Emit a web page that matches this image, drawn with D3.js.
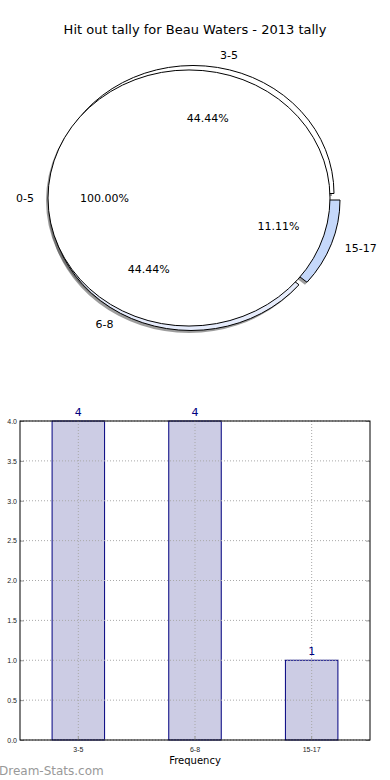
<!DOCTYPE html>
<html>
<head>
<meta charset="utf-8">
<script src="https://cdn.jsdelivr.net/npm/d3@7"></script>
<style>
  body { margin: 0; background: #fff; }
  svg { display: block; font-family: "DejaVu Sans", sans-serif; }
</style>
</head>
<body>
<div id="chart"></div>
<script>
const title = "Hit out tally for Beau Waters - 2013 tally"
const outerPieLabels = ["0-5"]
const outerPieValues = [1]
const pieLabels = ["3-5", "6-8", "15-17"]
const pieValues = [4, 4, 1]
const barLabels = ["3-5", "6-8", "15-17"]
const barValues = [4, 4, 1]
const yTicks = [0, 0.5, 1, 1.5, 2, 2.5, 3, 3.5, 4]

const width = 390, height = 780

const svg = d3.select("#chart").append("svg")
  .attr("width", width)
  .attr("height", height)

svg.append("text")
  .attr("x", 195).attr("y", 34)
  .attr("text-anchor", "middle")
  .attr("font-size", 13)
  .text(title)

// ---- pie (matplotlib style, stretched into an ellipse) ----
const cx = 189, cy = 198, rx = 141, ry = 128
const k = ry / rx
const pieColors = ["#ffffff", "#e6ecfc", "#c5d8fa"]
const offsets = [[4, -4.5], [2, 4.5], [10, 2]]

// angles counter-clockwise from east, like matplotlib
const pie = d3.pie().sort(null).value(d => d)
  .startAngle(Math.PI / 2).endAngle(Math.PI / 2 - 2 * Math.PI)
const arc = d3.arc().innerRadius(0).outerRadius(rx)

const inner = pie(pieValues)
const outer = pie(outerPieValues)

const gPie = svg.append("g")

function wedgeGroup(parent, dx, dy) {
  return parent.append("g")
    .attr("transform", `translate(${cx + dx},${cy + dy}) scale(1,${k})`)
}

// shadows first
inner.forEach((d, i) => {
  wedgeGroup(gPie, offsets[i][0] - 2, offsets[i][1] + 2.5).append("path")
    .attr("d", arc(d))
    .attr("fill", "#4d4d4d").attr("opacity", 0.55)
})
outer.forEach(d => {
  wedgeGroup(gPie, -2, 2.5).append("path")
    .attr("d", arc(d))
    .attr("fill", "#4d4d4d").attr("opacity", 0.55)
})
inner.forEach((d, i) => {
  wedgeGroup(gPie, offsets[i][0], offsets[i][1]).append("path")
    .attr("d", arc(d))
    .attr("fill", pieColors[i])
    .attr("stroke", "#000")
    .attr("stroke-width", 1)
    .attr("vector-effect", "non-scaling-stroke")
})
outer.forEach(d => {
  wedgeGroup(gPie, 0, 0).append("path")
    .attr("d", arc(d))
    .attr("fill", "#fff")
    .attr("stroke", "#000")
    .attr("stroke-width", 1)
    .attr("vector-effect", "non-scaling-stroke")
})

function pieText(d, label, total, dx, dy) {
  const mid = (d.startAngle + d.endAngle) / 2
  const ux = Math.sin(mid), uy = -Math.cos(mid)
  gPie.append("text")
    .attr("x", cx + dx + ux * rx * 1.1)
    .attr("y", cy + dy + uy * ry * 1.1)
    .attr("dy", "0.35em")
    .attr("font-size", 11)
    .attr("text-anchor", ux > 0.001 ? "start" : "end")
    .text(label)
  gPie.append("text")
    .attr("x", cx + dx + ux * rx * 0.6)
    .attr("y", cy + dy + uy * ry * 0.6)
    .attr("dy", "0.35em")
    .attr("font-size", 11)
    .attr("text-anchor", "middle")
    .text((d.value / total * 100).toFixed(2) + "%")
}
outer.forEach((d, i) => pieText(d, outerPieLabels[i], d3.sum(outerPieValues), 0, 0))
inner.forEach((d, i) => pieText(d, pieLabels[i], d3.sum(pieValues), offsets[i][0], offsets[i][1]))

// ---- bar chart ----
const mLeft = 20, mRight = 370, mTop = 421, mBottom = 740

const x = d3.scaleBand().domain(barLabels)
  .range([mLeft, mRight]).paddingInner(0.55).paddingOuter(0.275)
const y = d3.scaleLinear().domain([0, 4]).range([mBottom, mTop])

const gBar = svg.append("g")

gBar.append("g").selectAll("rect").data(barValues).join("rect")
  .attr("x", (d, i) => x(barLabels[i]))
  .attr("y", d => y(d))
  .attr("width", x.bandwidth())
  .attr("height", d => mBottom - y(d))
  .attr("fill", "#ccccE4")
  .attr("stroke", "#00007f")
  .attr("stroke-width", 1)

// dotted grid
gBar.append("g").selectAll("line").data(yTicks).join("line")
  .attr("x1", mLeft).attr("x2", mRight)
  .attr("y1", d => y(d)).attr("y2", d => y(d))
  .attr("stroke", "#a8a8a8").attr("stroke-dasharray", "1,2")
gBar.append("g").selectAll("line").data(barLabels).join("line")
  .attr("x1", d => x(d) + x.bandwidth() / 2).attr("x2", d => x(d) + x.bandwidth() / 2)
  .attr("y1", mTop).attr("y2", mBottom)
  .attr("stroke", "#a8a8a8").attr("stroke-dasharray", "1,2")

gBar.append("g").selectAll("text").data(barValues).join("text")
  .attr("x", (d, i) => x(barLabels[i]) + x.bandwidth() / 2)
  .attr("y", d => y(d) - 5)
  .attr("text-anchor", "middle")
  .attr("font-size", 11)
  .attr("fill", "#00007f")
  .text(d => d)

// axes
const yAxis = d3.axisLeft(y).tickValues(yTicks).tickFormat(d3.format(".1f")).tickSize(-4).tickPadding(3)
gBar.append("g").attr("transform", `translate(${mLeft},0)`).call(yAxis)
  .call(g => g.select(".domain").remove())
  .call(g => g.selectAll("line").attr("stroke", "#999"))
  .call(g => g.selectAll("text").attr("font-size", 7).attr("fill", "#222").attr("x", -3))
const yAxisR = d3.axisRight(y).tickValues(yTicks).tickFormat("").tickSize(-4)
gBar.append("g").attr("transform", `translate(${mRight},0)`).call(yAxisR)
  .call(g => g.select(".domain").remove())
  .call(g => g.selectAll("line").attr("stroke", "#999"))

const xAxis = d3.axisBottom(x).tickSize(-4).tickPadding(7)
gBar.append("g").attr("transform", `translate(0,${mBottom})`).call(xAxis)
  .call(g => g.select(".domain").remove())
  .call(g => g.selectAll("line").attr("stroke", "#999"))
  .call(g => g.selectAll("text").attr("font-size", 7).attr("fill", "#222"))

gBar.append("rect")
  .attr("x", mLeft).attr("y", mTop)
  .attr("width", mRight - mLeft).attr("height", mBottom - mTop)
  .attr("fill", "none").attr("stroke", "#000").attr("stroke-width", 1)

svg.append("text")
  .attr("x", (mLeft + mRight) / 2).attr("y", 764)
  .attr("text-anchor", "middle")
  .attr("font-size", 10)
  .text("Frequency")

svg.append("text")
  .attr("x", -1).attr("y", 775)
  .attr("font-size", 12)
  .attr("fill", "#999")
  .text("Dream-Stats.com")
</script>
</body>
</html>
